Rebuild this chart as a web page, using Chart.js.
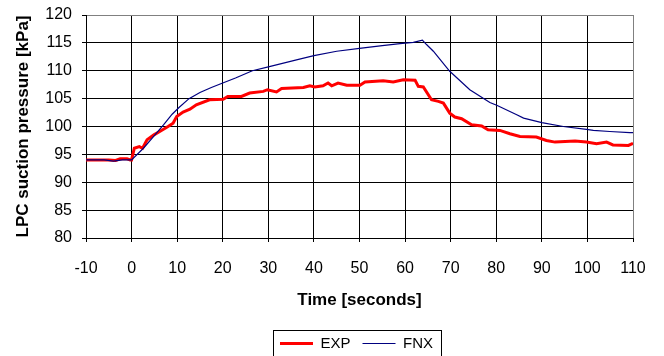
<!DOCTYPE html>
<html>
<head>
<meta charset="utf-8">
<script src="https://cdn.jsdelivr.net/npm/chart.js@4.4.1/dist/chart.umd.min.js"></script>
<style>
  html, body { margin: 0; padding: 0; background: #fff; }
  #wrap { width: 664px; height: 356px; position: relative; }
</style>
</head>
<body>
<div id="wrap"><canvas id="chart"></canvas></div>
<script>
// EXP (measured) - time [s] and LPC suction pressure [kPa]
const expTime = [-10, -5, -3.5, -2.5, -1, -0.3, 0, 0.6, 1.7, 2.4, 3.4, 4.9, 7.0, 8.0, 9.1, 9.9, 11.3, 12.8, 14.2, 17.1, 20.1, 21.1, 24.1, 25.9, 28.9, 29.8, 31.8, 32.9, 37.7, 39.1, 40.2, 42.0, 43.1, 43.9, 45.3, 47.2, 50.1, 51.2, 55.2, 57.4, 59.6, 62.2, 62.9, 64.0, 65.8, 67.3, 68.4, 69.8, 70.9, 72.4, 74.6, 76.8, 78.2, 80.8, 83.0, 85.2, 88.8, 91.0, 92.9, 97.3, 99.8, 102.0, 104.2, 105.6, 109.0, 110];
const expValue = [94.0, 94.0, 93.9, 94.2, 94.2, 94.0, 94.0, 96.1, 96.4, 96.1, 97.6, 98.5, 99.5, 100.0, 100.6, 101.8, 102.6, 103.1, 103.9, 104.8, 104.9, 105.4, 105.4, 106.0, 106.3, 106.6, 106.2, 106.8, 107.0, 107.3, 107.1, 107.3, 107.8, 107.3, 107.8, 107.4, 107.4, 108.0, 108.2, 108.0, 108.4, 108.3, 107.2, 107.1, 104.8, 104.5, 104.2, 102.4, 101.7, 101.4, 100.3, 100.1, 99.4, 99.3, 98.7, 98.2, 98.1, 97.5, 97.2, 97.4, 97.2, 96.9, 97.2, 96.7, 96.6, 97.0];

// FNX (simulation)
const fnxTime = [-10, -6, -4, -2, 0, 2.6, 4.8, 7.0, 8.9, 10.4, 12.6, 15, 17.5, 20, 22.8, 26.5, 30, 36.4, 40, 45, 50, 55, 58.9, 61.8, 63.8, 64.7, 66.2, 69.8, 74.2, 78.6, 80.1, 84.5, 86, 90, 94.7, 99.8, 101.3, 104.9, 109.3, 110];
const fnxValue = [94.0, 94.0, 93.8, 94.0, 94.0, 96.1, 98.2, 100.3, 102.2, 103.4, 105.0, 106.1, 107.0, 107.8, 108.7, 110.0, 110.7, 112.0, 112.7, 113.5, 114.0, 114.5, 114.85, 115.1, 115.5, 114.7, 113.5, 109.9, 106.6, 104.3, 103.8, 102.1, 101.5, 100.7, 100.0, 99.5, 99.3, 99.1, 98.9, 98.9];

const seriesNames = ['EXP', 'FNX'];
const xTitle = 'Time [seconds]';
const yTitle = 'LPC suction pressure [kPa]';

function toPoints(xs, ys) {
  return xs.map((x, i) => ({ x: x, y: ys[i] }));
}

// legend sits centred under the plot area, with a frame round it
const legendFrame = {
  id: 'legendFrame',
  afterLayout(chart) {
    const lg = chart.legend;
    lg.left = chart.chartArea.left - 6;
    lg.right = chart.chartArea.right;
    lg.width = lg.right - lg.left;
  },
  afterDraw(chart) {
    const boxes = chart.legend.legendHitBoxes;
    if (!boxes || !boxes.length) return;
    let l = Infinity, r = -Infinity, t = Infinity;
    boxes.forEach(b => {
      l = Math.min(l, b.left);
      r = Math.max(r, b.left + b.width);
      t = Math.min(t, b.top);
    });
    const ctx = chart.ctx;
    ctx.save();
    ctx.strokeStyle = '#000';
    ctx.lineWidth = 1;
    ctx.strokeRect(Math.round(l - 7) + 0.5, Math.round(t - 6) + 0.5, Math.round(r - l + 15), 40);
    ctx.restore();
  }
};

const data = {
  datasets: [{
    label: seriesNames[0],
    data: toPoints(expTime, expValue),
    borderColor: '#ff0000',
    backgroundColor: '#ff0000',
    borderWidth: 3,
    pointRadius: 0,
    tension: 0,
    order: 1
  }, {
    label: seriesNames[1],
    data: toPoints(fnxTime, fnxValue),
    borderColor: '#000080',
    backgroundColor: '#000080',
    borderWidth: 1.2,
    pointRadius: 0,
    tension: 0,
    order: 0
  }]
};

const config = {
  type: 'line',
  data: data,
  options: {
    responsive: false,
    animation: false,
    devicePixelRatio: 1,
    layout: { padding: { left: 0, right: 31, top: 15, bottom: -5 } },
    plugins: {
      legend: {
        position: 'bottom',
        labels: {
          usePointStyle: true,
          pointStyle: 'line',
          pointStyleWidth: 33,
          padding: 12,
          color: '#000',
          font: { family: 'Liberation Sans, Arial', size: 15 },
          sort: (a, b) => a.datasetIndex - b.datasetIndex
        }
      },
      tooltip: { enabled: false }
    },
    scales: {
      x: {
        type: 'linear',
        min: -10,
        max: 110,
        ticks: {
          stepSize: 10,
          padding: 17,
          color: '#000',
          font: { family: 'Liberation Sans, Arial', size: 16 }
        },
        grid: {
          color: ctx => (ctx.tick && ctx.tick.value === 110) ? '#808080' : '#000',
          tickColor: '#000',
          tickLength: 4
        },
        border: { color: '#000' },
        title: {
          display: true,
          text: xTitle,
          color: '#000',
          font: { family: 'Liberation Sans, Arial', size: 17, weight: 'bold' },
          padding: { top: 0, bottom: 13 }
        },
        afterFit: s => { s.height = 86; }
      },
      y: {
        min: 80,
        max: 120,
        ticks: {
          stepSize: 5,
          padding: 10,
          color: '#000',
          font: { family: 'Liberation Sans, Arial', size: 16 }
        },
        grid: {
          color: ctx => (ctx.tick && ctx.tick.value === 120) ? '#808080' : '#000',
          tickColor: '#000',
          tickLength: 4
        },
        border: { color: '#000' },
        title: {
          display: true,
          text: yTitle,
          color: '#000',
          font: { family: 'Liberation Sans, Arial', size: 17, weight: 'bold' },
          padding: { top: 13, bottom: 0 }
        },
        afterFit: s => {
          s.width = 86;
          // the label padding would otherwise push the plot top down
          s.paddingTop = 0;
          s.paddingBottom = 0;
        }
      }
    }
  },
  plugins: [legendFrame]
};

const canvas = document.getElementById('chart');
canvas.width = 664;
canvas.height = 356;
const myChart = new Chart(canvas, config);
</script>
</body>
</html>
